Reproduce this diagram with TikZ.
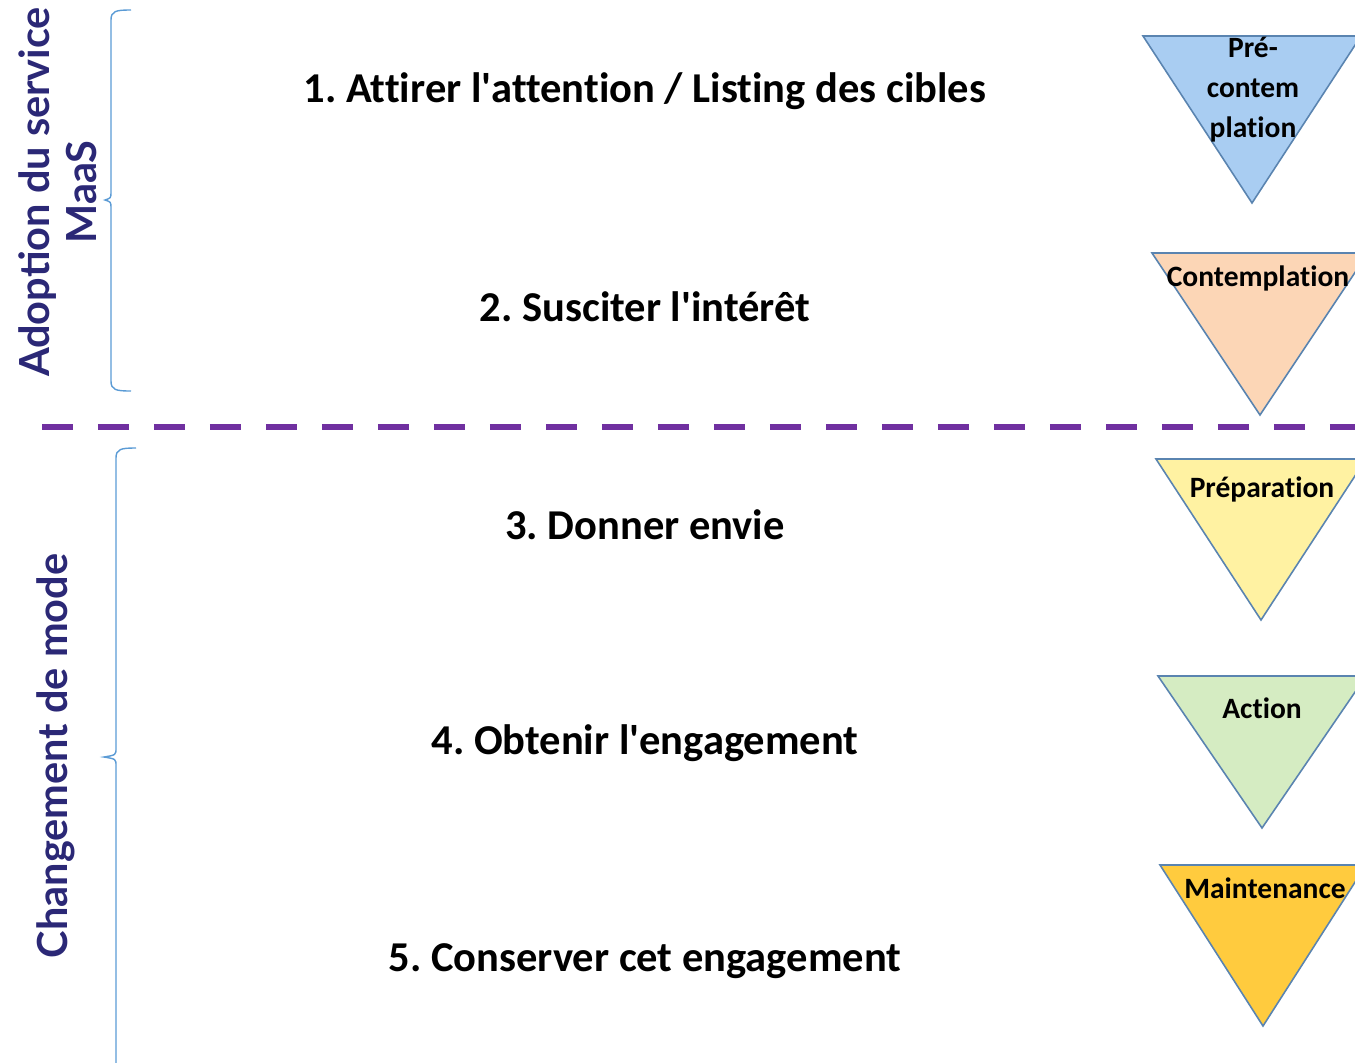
\documentclass[tikz,border=0pt]{standalone}
\usepackage{fontspec}
\setmainfont{Carlito}[Ligatures=NoCommon]
\newfontfamily\sidefont{Lato}
\usepackage{tikz}
\usetikzlibrary{positioning}
\frenchspacing

\definecolor{triedge}{HTML}{5A84B0}
\definecolor{fillpre}{HTML}{A9CDF2}
\definecolor{fillcont}{HTML}{FCD6B6}
\definecolor{fillprep}{HTML}{FFF2A2}
\definecolor{fillact}{HTML}{D5ECC2}
\definecolor{fillmaint}{HTML}{FFCB3E}
\definecolor{sepline}{HTML}{7030A0}
\definecolor{bracecol}{HTML}{5B9BD5}
\definecolor{sidecol}{HTML}{2B2876}

\newcommand{\apos}{\textquotesingle}

\tikzset{
  etape/.style={font=\fontsize{24.2}{28}\selectfont\bfseries, anchor=center},
  stade/.style={font=\fontsize{16.8}{22.8}\selectfont\bfseries, align=center, inner sep=0pt},
  tri/.style={draw=triedge, line width=0.9pt},
  accolade/.style={draw=bracecol, line width=0.8pt},
  cote/.style={font=\fontsize{23.6}{26.8}\selectfont\sidefont\bfseries, text=sidecol, rotate=90, align=center}
}

\begin{document}
\begin{tikzpicture}[x=0.02cm, y=-0.02cm]
    \useasboundingbox (0,0) rectangle (1355,1062);
    \clip (0,0) rectangle (1355,1062);

    % etapes du parcours
    \node[etape] (e1) at (645,91) {1. Attirer l\apos attention / Listing des cibles};
    \node[etape] (e2) at (645,307) {2. Susciter l\apos intérêt};
    \node[etape] (e3) at (645,525) {3. Donner envie};
    \node[etape] (e4) at (645,743) {4. Obtenir l\apos engagement};
    \node[etape] (e5) at (645,961) {5. Conserver cet engagement};

    % triangles des stades
    \draw[tri, fill=fillpre] (1143,36) -- (1361,36) -- (1252,203) -- cycle;
    \node[stade] (s1) at (1253,90) {Pré-\\contem\\plation};

    \draw[tri, fill=fillcont] (1152,253) -- (1368,253) -- (1260,415) -- cycle;
    \node[stade] (s2) at (1258,278) {Contemplation};

    \draw[tri, fill=fillprep] (1156,459) -- (1366,459) -- (1261,620) -- cycle;
    \node[stade] (s3) at (1262,489) {Préparation};

    \draw[tri, fill=fillact] (1158,676) -- (1366,676) -- (1262,828) -- cycle;
    \node[stade] (s4) at (1262,708) {Action};

    \draw[tri, fill=fillmaint] (1160,865) -- (1366,865) -- (1263,1026) -- cycle;
    \node[stade] (s5) at (1265,888) {Maintenance};

    % separation
    \draw[sepline, line width=3.4pt, dash pattern=on 0.62cm off 0.5cm] (42,427) -- (1360,427);

    % accolades
    \draw[accolade] (131,10) .. controls (116,10) and (111,11) .. (111,20) -- (111,192)
        .. controls (111,198) .. (105,200) .. controls (111,202) .. (111,208) -- (111,381)
        .. controls (111,390) and (116,391) .. (131,391);
    \draw[accolade] (136,448) .. controls (121,448) and (116,449) .. (116,458) -- (116,748)
        .. controls (116,755) .. (104,757) .. controls (116,759) .. (116,766) -- (116,1070);

    % libelles lateraux
    \node[cote] (adoption) at (58,192) {Adoption du service\\MaaS};
    \node[cote] (changement) at (56,756) {Changement de mode};
\end{tikzpicture}
\end{document}
